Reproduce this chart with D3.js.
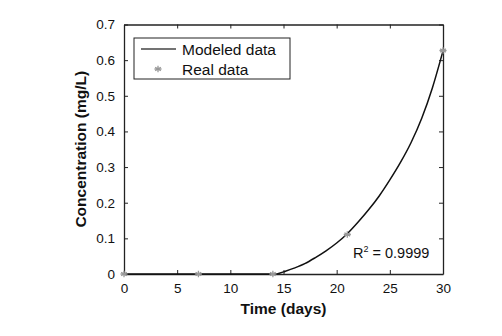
<!DOCTYPE html>
<html>
<head>
<meta charset="utf-8">
<script src="https://cdn.jsdelivr.net/npm/d3@7"></script>
<style>
body { margin: 0; background: #fff; }
svg { font-family: "Liberation Sans", Arial, sans-serif; }
</style>
</head>
<body>
<svg width="502" height="336"></svg>
<script>
// modeled curve (flat until ~14.4 days, then rising)
var modelDays = [0, 14.4, 15, 16, 17, 18, 19, 20, 21, 22, 23, 24, 25, 26, 27, 28, 29, 30];
var modelConc = [0, 0, 0.006, 0.0165, 0.029, 0.046, 0.065, 0.087, 0.113, 0.145, 0.180, 0.219, 0.264, 0.313, 0.369, 0.437, 0.522, 0.626];
// measured points
var realDays = [0, 7, 14, 21, 30];
var realConc = [0, 0, 0, 0.111, 0.627];
var xTicks = [0, 5, 10, 15, 20, 25, 30];
var yTicks = [0, 0.1, 0.2, 0.3, 0.4, 0.5, 0.6, 0.7];

var svg = d3.select("svg"),
    pLeft = 124, pRight = 443, pTop = 24.5, pBottom = 274;

var x = d3.scaleLinear().domain([0, 30]).range([pLeft, pRight]);
var y = d3.scaleLinear().domain([0, 0.7]).range([pBottom, pTop]);

var fmtY = function(d) { return d === 0 ? "0" : d3.format(".1f")(d); };

// axes, ticks pointing inward like matlab
svg.append("g").attr("transform", "translate(0," + pBottom + ")")
    .call(d3.axisBottom(x).tickValues(xTicks).tickSizeInner(-4).tickSizeOuter(0).tickPadding(9));
svg.append("g").attr("transform", "translate(0," + pTop + ")")
    .call(d3.axisTop(x).tickValues(xTicks).tickSizeInner(-4).tickSizeOuter(0).tickFormat(""));
svg.append("g").attr("transform", "translate(" + pLeft + ",0)")
    .call(d3.axisLeft(y).tickValues(yTicks).tickSizeInner(-4).tickSizeOuter(0).tickPadding(9).tickFormat(fmtY));
svg.append("g").attr("transform", "translate(" + pRight + ",0)")
    .call(d3.axisRight(y).tickValues(yTicks).tickSizeInner(-4).tickSizeOuter(0).tickFormat(""));

svg.selectAll(".domain").attr("stroke", "#222").attr("stroke-width", 1.3);
svg.selectAll(".tick line").attr("stroke", "#222");
svg.selectAll(".tick text").attr("font-size", 13.5).attr("fill", "#111")
    .attr("font-family", "Liberation Sans, Arial, sans-serif");

// curve: flat part and rising part drawn separately so the bend stays sharp
var model = modelDays.map(function(d, i) { return [d, modelConc[i]]; });
var line = d3.line().x(function(d) { return x(d[0]); }).y(function(d) { return y(d[1]); });
svg.append("path")
    .datum(model.slice(0, 2))
    .attr("fill", "none").attr("stroke", "#111").attr("stroke-width", 1.5)
    .attr("d", line);
svg.append("path")
    .datum(model.slice(1))
    .attr("fill", "none").attr("stroke", "#111").attr("stroke-width", 1.5)
    .attr("d", line.curve(d3.curveMonotoneX));

// asterisk markers
var star = d3.symbol().type(d3.symbolAsterisk).size(30);
function asterisk(sel) {
    sel.append("path").attr("d", star).attr("fill", "none").attr("stroke", "#999").attr("stroke-width", 1.3);
    sel.append("line").attr("x1", -3.6).attr("x2", 3.6).attr("stroke", "#999").attr("stroke-width", 1.3);
}
svg.append("g").selectAll("g")
    .data(realDays.map(function(d, i) { return [d, realConc[i]]; }))
    .enter().append("g")
    .attr("transform", function(d) { return "translate(" + x(d[0]) + "," + y(d[1]) + ")"; })
    .call(asterisk);

// legend
var lg = svg.append("g");
lg.append("rect").attr("x", 134).attr("y", 38).attr("width", 156).attr("height", 41)
    .attr("fill", "#fff").attr("stroke", "#222").attr("stroke-width", 1);
lg.append("line").attr("x1", 141).attr("x2", 176).attr("y1", 49).attr("y2", 49)
    .attr("stroke", "#444").attr("stroke-width", 1.5);
lg.append("text").attr("x", 182).attr("y", 54.5).attr("font-size", 15.5).attr("fill", "#111").text("Modeled data");
lg.append("g").attr("transform", "translate(158,69)").call(asterisk);
lg.append("text").attr("x", 182).attr("y", 74.5).attr("font-size", 15.5).attr("fill", "#111").text("Real data");

// fit annotation
var r2 = svg.append("text").attr("x", 353).attr("y", 258).attr("font-size", 14.5).attr("fill", "#111");
r2.append("tspan").text("R");
r2.append("tspan").attr("font-size", 9).attr("dy", -6).text("2");
r2.append("tspan").attr("dy", 6).text(" = 0.9999");

// axis titles
svg.append("text").attr("x", (pLeft + pRight) / 2).attr("y", 314)
    .attr("text-anchor", "middle").attr("font-weight", "bold").attr("font-size", 15.5).attr("fill", "#111")
    .text("Time (days)");
svg.append("text").attr("transform", "translate(86," + (pTop + pBottom) / 2 + ") rotate(-90)")
    .attr("text-anchor", "middle").attr("font-weight", "bold").attr("font-size", 15.5).attr("fill", "#111")
    .text("Concentration (mg/L)");
</script>
</body>
</html>
